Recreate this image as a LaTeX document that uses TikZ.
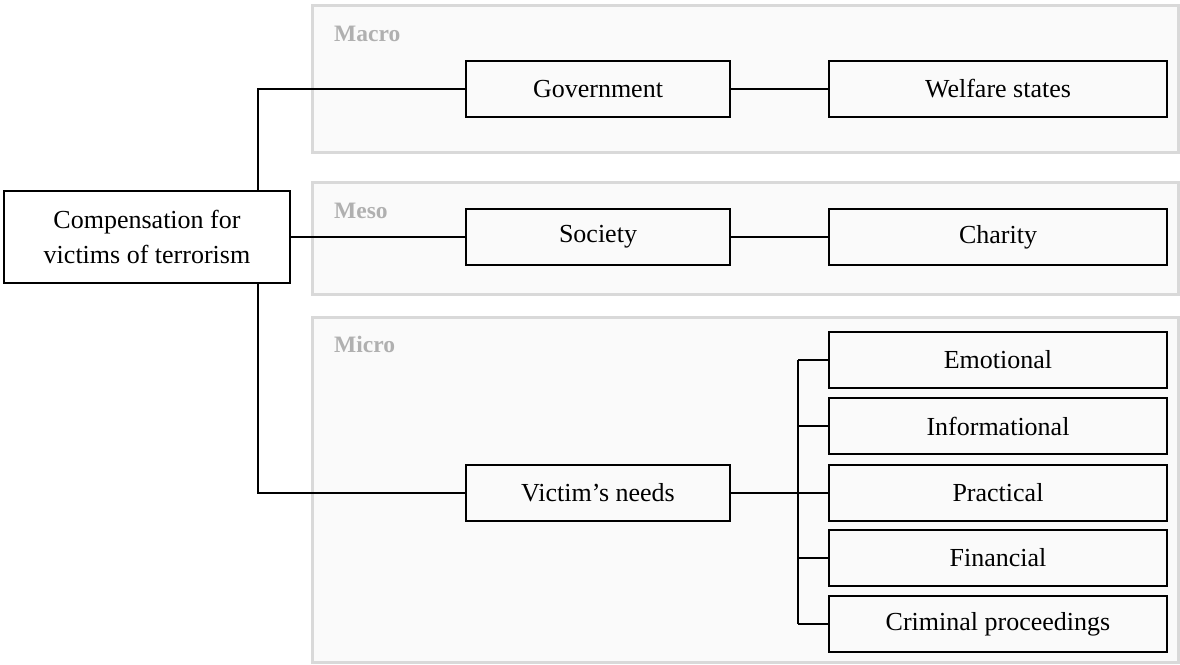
\documentclass[tikz,border=0pt]{standalone}
\usepackage{fontspec}
\setmainfont{Liberation Serif}
\usepackage{tikz}
\usetikzlibrary{positioning}
\definecolor{panelfill}{RGB}{250,250,250}
\definecolor{panelline}{RGB}{217,217,217}
\definecolor{taggray}{RGB}{176,176,176}
\tikzset{box/.style={draw, line width=2pt, align=center, inner sep=2pt, minimum height=56, font=\fontsize{26}{35}\selectfont}, sbox/.style={box, minimum width=264}, wbox/.style={box, minimum width=338}, panel/.style={draw=panelline, fill=panelfill, line width=3pt, inner sep=0pt, minimum width=866}, tag/.style={anchor=base west, inner sep=0pt, text=taggray, font=\fontsize{23.5}{28}\selectfont\bfseries}, link/.style={line width=2pt}}

\begin{document}
\begin{tikzpicture}[x=1pt,y=-1pt]
\useasboundingbox (0,0) rectangle (1180,664);
\node[panel,minimum height=147] (macro) at (745.5,79) {};
\node[panel,minimum height=112] (meso) at (745.5,238.7) {};
\node[panel,minimum height=345] (micro) at (745.5,490) {};
\node[tag] (macrotag) at (334,41) {Macro};
\node[tag] (mesotag) at (334,218) {Meso};
\node[tag] (microtag) at (334,352) {Micro};
\node[box,minimum width=286,minimum height=92] (root) at (147,237) {Compensation for\\victims of terrorism};
\node[sbox] (gov) at (598,89) {Government};
\node[sbox] (society) at (598,237) {Society};
\node[sbox] (needs) at (598,493) {Victim’s needs};
\node[wbox] (welfare) at (998,89) {Welfare states};
\node[wbox] (charity) at (998,237) {Charity};
\node[wbox] (emo) at (998,360) {Emotional};
\node[wbox] (info) at (998,426) {Informational};
\node[wbox] (prac) at (998,493) {Practical};
\node[wbox] (fin) at (998,558) {Financial};
\node[wbox] (crim) at (998,624) {Criminal proceedings};
\coordinate (trunk) at (258,0); \coordinate (fork) at (798,0);
\draw[link] (root.north -| trunk) |- (gov.west); \draw[link] (root.east) -- (society.west); \draw[link] (root.south -| trunk) |- (needs.west);
\draw[link] (gov.east) -- (welfare.west); \draw[link] (society.east) -- (charity.west);
\draw[link] (needs.east) -- (needs.east -| fork); \draw[link] (emo.west -| fork) -- (crim.west -| fork);
\draw[link] (emo.west -| fork) -- (emo.west); \draw[link] (info.west -| fork) -- (info.west); \draw[link] (prac.west -| fork) -- (prac.west); \draw[link] (fin.west -| fork) -- (fin.west); \draw[link] (crim.west -| fork) -- (crim.west);
\end{tikzpicture}
\end{document}
